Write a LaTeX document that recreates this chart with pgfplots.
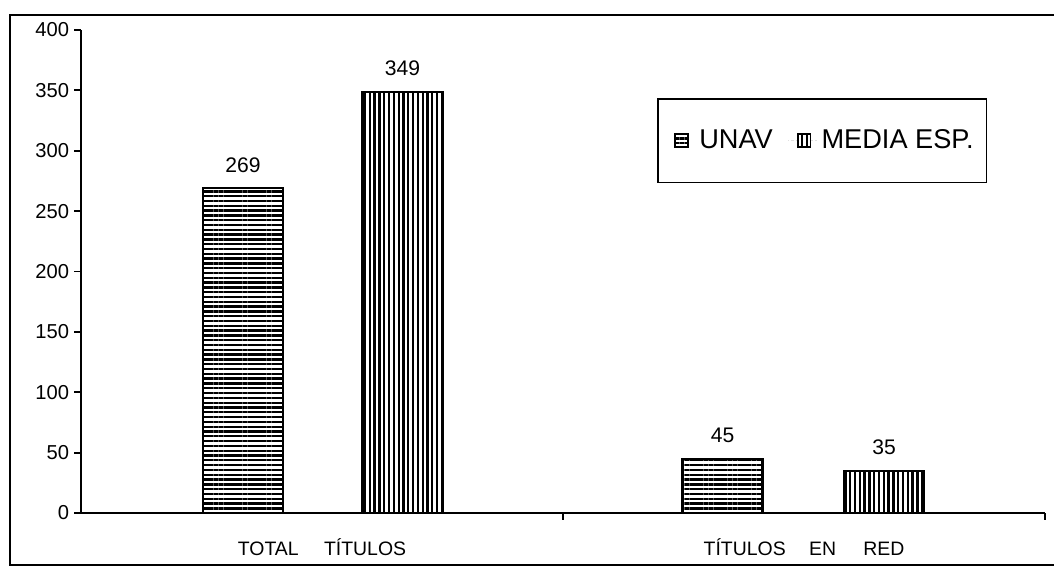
\documentclass[border=0pt]{standalone}
\usepackage{fontspec}
\setmainfont{Liberation Sans}
\usepackage{pgfplots}
\pgfplotsset{compat=1.18}
\usetikzlibrary{patterns.meta}

\newcommand{\fs}[1]{\fontsize{#1}{#1}\selectfont}

\begin{document}
\begin{tikzpicture}
\begin{axis}[
  scale only axis, width=14.46cm, height=7.245cm,
  xmin=-0.5, xmax=1.5, ymin=0, ymax=400,
  axis x line=bottom, axis y line=left,
  axis line style={-, line width=0.8pt},
  /pgf/number format/assume math mode=true,
  ytick={0,50,...,400},
  tick align=outside, major tick length=0.1cm,
  tick style={black, line width=0.8pt},
  yticklabel style={font=\fs{8.6}, xshift=1.3pt},
  xtick={0.5,1.5}, xticklabels={},
  extra x ticks={0,1},
  extra x tick labels={TOTAL\hspace{1.3em}TÍTULOS, TÍTULOS\hspace{1.2em}EN\hspace{1.4em}RED},
  extra x tick style={major tick length=0pt,
    xticklabel style={font=\fs{8.3}, yshift=-7.5pt}},
  bar width=1.2cm,
  nodes near coords,
  nodes near coords style={font=\fs{9}, anchor=base, yshift=6.8pt},
  legend columns=2,
  legend style={at={(rel axis cs:0.5975,0.859)}, anchor=north west,
    draw=black, line width=0.7pt, font=\fs{11.6},
    inner xsep=3.5pt, inner ysep=11pt,
    /tikz/every even column/.append style={column sep=0.16cm}},
  legend image code/.code={%
    \path[draw=none] (0cm,0cm) -- (0.43cm,0cm);
    \draw[#1,line width=0.8pt] (0.14cm,-0.095cm) rectangle (0.335cm,0.095cm);},
]
\coordinate (O) at (rel axis cs:0,0);
\addplot[ybar, bar shift=0pt, draw=black, line width=0.9pt,
  pattern={Lines[angle=0,distance=2.05pt,line width=1pt]}]
  coordinates {(-0.164,269) (0.831,45)};
\addplot[ybar, bar shift=0pt, draw=black, line width=0.9pt,
  pattern={Lines[angle=90,distance=2.05pt,line width=1pt]}]
  coordinates {(0.167,349) (1.166,35)};
\legend{UNAV, MEDIA ESP.}
\end{axis}
\draw[line width=1pt] ([shift={(-1.065cm,-0.78cm)}]O) rectangle ([shift={(14.7cm,7.47cm)}]O);
\pgfresetboundingbox
\path[use as bounding box] ([shift={(-1.215cm,-0.795cm)}]O) rectangle ([shift={(14.595cm,7.695cm)}]O);
\end{tikzpicture}
\end{document}
